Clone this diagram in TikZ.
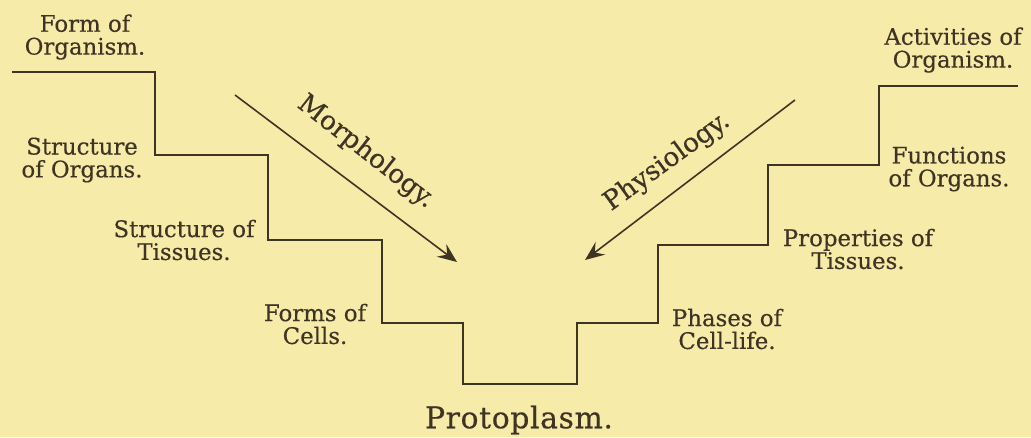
\documentclass[tikz,border=0pt]{standalone}
\usepackage{fontspec}
\setmainfont{DejaVu Serif}[FakeBold=0.4]
\usetikzlibrary{arrows.meta}
\definecolor{Paper}{HTML}{F6EBA8}
\definecolor{Ink}{HTML}{3E3424}

\begin{document}
\begin{tikzpicture}[x=0.02cm, y=-0.02cm,
    every node/.style={font=\fontsize{13}{13}\selectfont, text=Ink, align=center, inner sep=0pt},
    arr/.style={Ink, line width=0.9pt, -{Stealth[length=11pt,width=9pt,inset=4pt]}}]
  \fill[Paper] (0,0) rectangle (1031,437);
  \useasboundingbox (0,0) rectangle (1031,437);
  % the steps
  \draw[Ink, line width=1.1pt] (12,72) -| (155,155) -| (268,240) -| (382,323) -| (463,384)
    -| (577,323) -| (658,245) -| (768,165) -| (879,86) -- (1018,86);
  % step labels
  \foreach \n/\x/\y/\txt in {form/85/37/{Form of\\Organism.}, organs/82/160/{Structure\\of Organs.},
      tissues/184/240/{Structure of\\Tissues.}, cells/315/324/{Forms of\\Cells.},
      cellife/727/329/{Phases of\\Cell-life.}, props/858/249/{Properties of\\Tissues.},
      funcs/949/169/{Functions\\of Organs.}, acts/953/50/{Activities of\\Organism.}}
    \node (\n) at (\x,\y) {\txt};
  \node[font=\fontsize{17}{17}\selectfont\addfontfeature{LetterSpace=2}] (proto) at (519,420) {Protoplasm.};
  % the two ways down
  \coordinate (morphTail) at (235,95);
  \coordinate (morphTip) at (457,262);
  \coordinate (physioTail) at (795,100);
  \coordinate (physioTip) at (585,260);
  \draw[arr] (morphTail) -- (morphTip);
  \draw[arr] (physioTail) -- (physioTip);
  \node[rotate=-38, font=\fontsize{15}{15}\selectfont] (morph) at (366,152) {Morphology.};
  \node[rotate=36, font=\fontsize{15}{15}\selectfont] (physio) at (667,162) {Physiology.};
\end{tikzpicture}
\end{document}
